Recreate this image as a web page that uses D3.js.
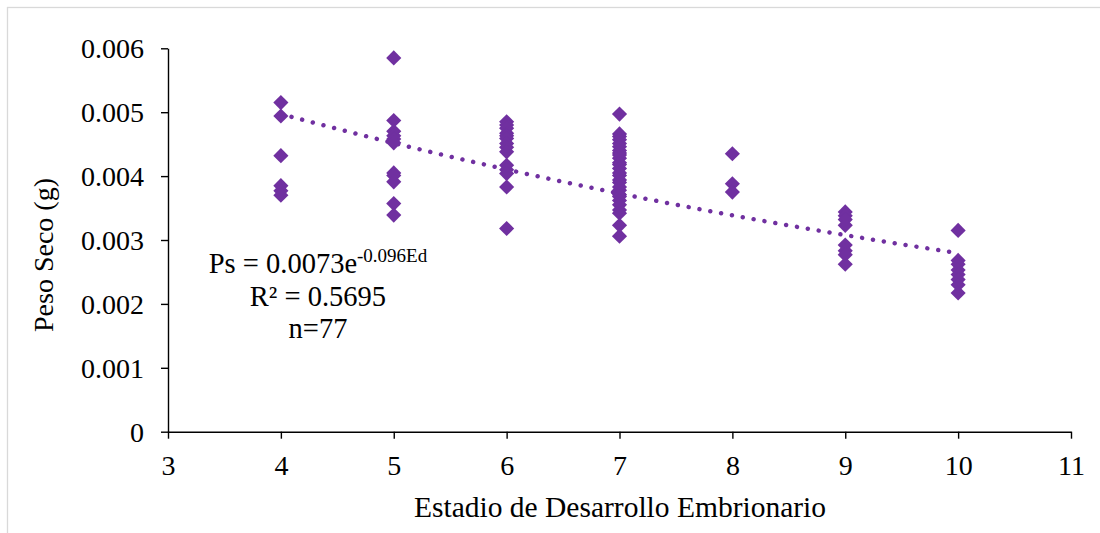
<!DOCTYPE html>
<html>
<head>
<meta charset="utf-8">
<script src="https://cdn.jsdelivr.net/npm/d3@7/dist/d3.min.js"></script>
<style>
  html, body { margin: 0; padding: 0; background: #fff; }
  svg { display: block; font-family: "Liberation Serif", "Times New Roman", serif; }
</style>
</head>
<body>
<svg id="chart" width="1100" height="533"></svg>
<script>
// Dry weight (g) of embryos by developmental stage
const stage4  = [0.00515, 0.00494, 0.00432, 0.00385, 0.00377, 0.00370];
const stage5  = [0.00585, 0.00487, 0.00470, 0.00463, 0.00458, 0.00452, 0.00405, 0.00401, 0.00391, 0.00357, 0.00339];
const stage6  = [0.00485, 0.00480, 0.00475, 0.00467, 0.00463, 0.00459, 0.00451, 0.00445, 0.00438, 0.00417, 0.00410, 0.00404, 0.00383, 0.00318];
const stage7  = [0.00497, 0.00466, 0.00462, 0.00457, 0.00451, 0.00446, 0.00440, 0.00436, 0.00433, 0.00428, 0.00421, 0.00418,
                 0.00412, 0.00405, 0.00401, 0.00394, 0.00390, 0.00383, 0.00378, 0.00371, 0.00368, 0.00362, 0.00355,
                 0.00347, 0.00342, 0.00323, 0.00306];
const stage8  = [0.00435, 0.00388, 0.00375];
const stage9  = [0.00344, 0.00338, 0.00332, 0.00323, 0.00292, 0.00283, 0.00277, 0.00262];
const stage10 = [0.00315, 0.00268, 0.00262, 0.00253, 0.00246, 0.00238, 0.00230, 0.00217];

const stages = [4, 5, 6, 7, 8, 9, 10];
const seriesByStage = [stage4, stage5, stage6, stage7, stage8, stage9, stage10];

// Exponential fit Ps = a * e^(b * Ed)
const fitA = 0.0073;
const fitB = -0.096;
const fitRange = [4, 10];

const xTicks = [3, 4, 5, 6, 7, 8, 9, 10, 11];
const yTicks = [0, 0.001, 0.002, 0.003, 0.004, 0.005, 0.006];
const yTickLabels = ["0", "0.001", "0.002", "0.003", "0.004", "0.005", "0.006"];

const equationLines = ["R² = 0.5695", "n=77"];

const points = [];
stages.forEach((s, i) => seriesByStage[i].forEach(v => points.push({ x: s, y: v })));

const purple = "#7030a0";
const svg = d3.select("#chart");

// Frame around chart area
svg.append("rect")
  .attr("x", 7.5).attr("y", 7.5)
  .attr("width", 1200).attr("height", 600)
  .attr("fill", "none").attr("stroke", "#d9d9d9").attr("stroke-width", 1.3);

const x = d3.scaleLinear().domain([3, 11]).range([168, 1071]);
const y = d3.scaleLinear().domain([0, 0.006]).range([431.7, 48.3]);

// Axes
const xAxis = d3.axisBottom(x).tickValues(xTicks).tickSize(7).tickSizeOuter(0).tickPadding(16).tickFormat(d3.format("d"));
const yAxis = d3.axisLeft(y).tickValues(yTicks).tickSize(7).tickSizeOuter(0).tickPadding(17)
  .tickFormat((d, i) => yTickLabels[i]);

const gx = svg.append("g").attr("transform", `translate(0,${y(0)})`).call(xAxis);
const gy = svg.append("g").attr("transform", `translate(${x(3)},0)`).call(yAxis);

[gx, gy].forEach(g => {
  g.select(".domain").attr("stroke", "#000").attr("stroke-width", 1.4);
  g.selectAll(".tick line").attr("stroke", "#000").attr("stroke-width", 1.4);
  g.selectAll(".tick text").attr("fill", "#000").style("font-size", "28px")
    .style("font-family", "'Liberation Serif', 'Times New Roman', serif");
});
gx.selectAll(".tick text").attr("dy", "0.71em");
gy.selectAll(".tick text").attr("dy", "0.34em");

// Axis titles
svg.append("text")
  .attr("x", (x(3) + x(11)) / 2 + 0.5).attr("y", 517)
  .attr("text-anchor", "middle").style("font-size", "29.5px").attr("fill", "#000")
  .text("Estadio de Desarrollo Embrionario");

svg.append("text")
  .attr("transform", `translate(53,${(y(0) + y(0.006)) / 2 + 15}) rotate(-90)`)
  .attr("text-anchor", "middle").style("font-size", "28px").attr("fill", "#000")
  .text("Peso Seco (g)");

// Fitted exponential curve (dotted)
const fitXs = d3.range(fitRange[0], fitRange[1] + 0.0001, 0.05);
const fitLine = d3.line().x(d => x(d)).y(d => y(fitA * Math.exp(fitB * d)));
svg.append("path")
  .datum(fitXs)
  .attr("d", fitLine)
  .attr("fill", "none")
  .attr("stroke", purple)
  .attr("stroke-width", 4.5)
  .attr("stroke-linecap", "round")
  .attr("stroke-dasharray", "0.01 11");

// Observations as diamonds
const diamond = d3.symbol().type(d3.symbolSquare).size(115);
svg.append("g").selectAll("path.pt")
  .data(points)
  .join("path")
  .attr("class", "pt")
  .attr("d", diamond)
  .attr("transform", d => `translate(${x(d.x)},${y(d.y)}) rotate(45)`)
  .attr("fill", purple);

// Equation annotation
const eqX = 318;
const eq = svg.append("text")
  .attr("x", eqX).attr("y", 273)
  .attr("text-anchor", "middle").style("font-size", "28.5px").attr("fill", "#000");
eq.append("tspan").text(`Ps = ${fitA}e`);
eq.append("tspan").attr("dy", -11).style("font-size", "19px").text(`${fitB}Ed`);

equationLines.forEach((t, i) => {
  svg.append("text")
    .attr("x", eqX).attr("y", 306 + i * 32)
    .attr("text-anchor", "middle").style("font-size", "28.5px").attr("fill", "#000")
    .text(t);
});
</script>
</body>
</html>
